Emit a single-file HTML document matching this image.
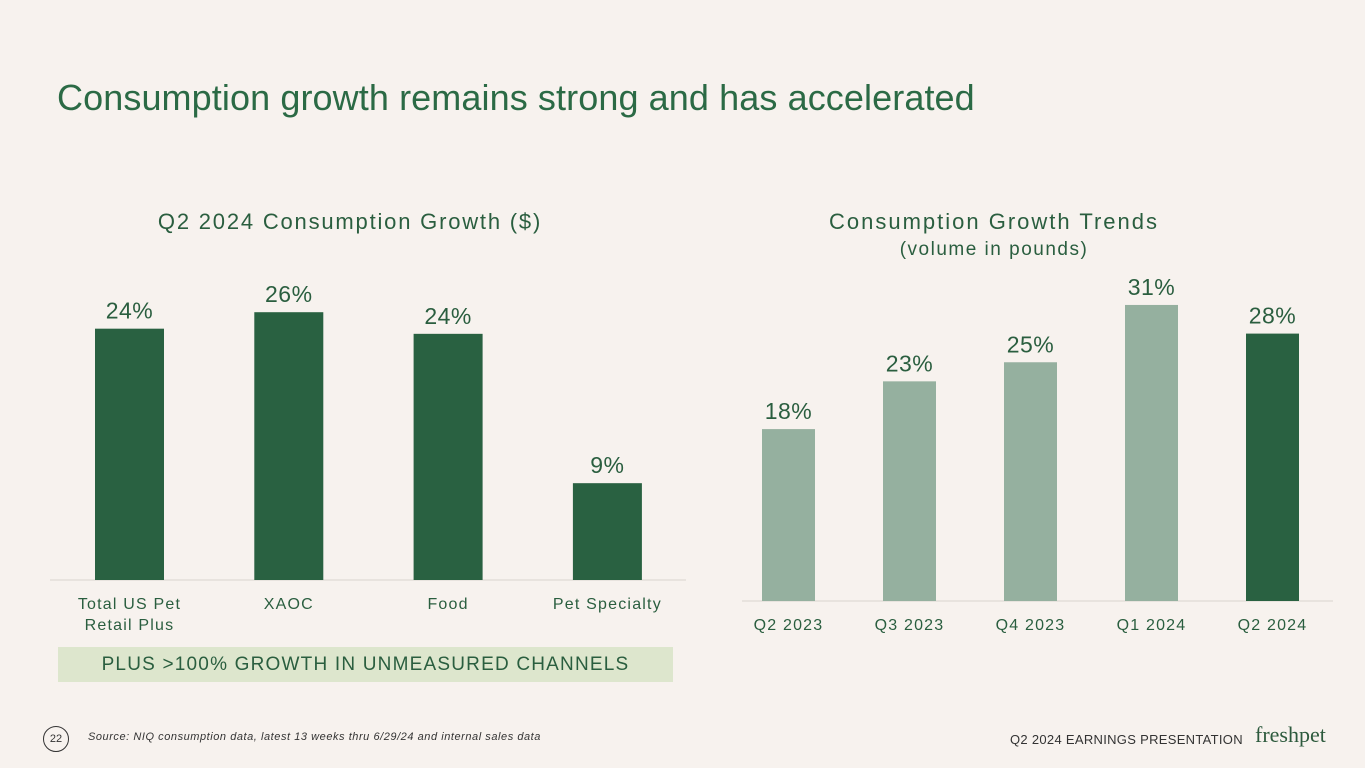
<!DOCTYPE html>
<html><head><meta charset="utf-8"><style>
body{margin:0;width:1365px;height:768px;background:#f7f2ee;font-family:"Liberation Sans",sans-serif;overflow:hidden;position:relative}
.abs{position:absolute}
</style></head><body>
<div class="abs" style="left:57px;top:77px;font-size:36px;color:#2b6a45;white-space:nowrap;letter-spacing:0.1px">Consumption growth remains strong and has accelerated</div>
<svg class="abs" style="left:0;top:0" width="1365" height="768">
<g id="left"></g>
<g id="right"></g>
</svg>
<div class="abs" style="left:58px;top:647px;width:615px;height:35px;background:#dde6cd;color:#2a5e3f;font-size:19px;line-height:35px;text-align:center;letter-spacing:1.2px">PLUS &gt;100% GROWTH IN UNMEASURED CHANNELS</div>
<div class="abs" style="left:43px;top:726px;width:24px;height:24px;border:1.5px solid #333;border-radius:50%;font-size:11px;line-height:24px;text-align:center;color:#333">22</div>
<div class="abs" style="left:88px;top:731px;font-size:11px;font-style:italic;color:#333;letter-spacing:0.55px;white-space:nowrap">Source:  NIQ consumption data, latest 13 weeks thru 6/29/24 and internal sales data</div>
<div class="abs" style="left:1010px;top:732px;font-size:13px;color:#333;letter-spacing:0.3px;white-space:nowrap">Q2 2024 EARNINGS PRESENTATION</div>
<div class="abs" style="left:1255px;top:722px;font-size:22px;font-family:'Liberation Serif',serif;color:#2d5a3d">freshpet</div>
<script>
const leftCats=["Total US Pet|Retail Plus","XAOC","Food","Pet Specialty"];
const leftVals=[24.4,26,23.9,9.4];
const leftLabels=["24%","26%","24%","9%"];
const rightCats=["Q2 2023","Q3 2023","Q4 2023","Q1 2024","Q2 2024"];
const rightVals=[18,23,25,31,28];
const rightLabels=["18%","23%","25%","31%","28%"];
const NS="http://www.w3.org/2000/svg";
function mk(parent,tag,attrs,text){const e=document.createElementNS(NS,tag);for(const k in attrs)e.setAttribute(k,attrs[k]);if(text!==undefined)e.textContent=text;parent.appendChild(e);return e;}
function chart(g,cats,vals,labels,opt){
  const yS=v=>opt.base-v*opt.ppu;
  const xS=i=>opt.x0+i*opt.step;
  const t=mk(g,'text',{x:opt.titleX,y:opt.titleY,'text-anchor':'middle','font-size':22,'letter-spacing':opt.tls,fill:'#2a5e3f'},opt.title);
  
  
  if(opt.sub){const s=mk(g,'text',{x:opt.titleX,y:opt.titleY+26,'text-anchor':'middle','font-size':19,'letter-spacing':1.5,fill:'#2a5e3f'},opt.sub);
  
  }
  const ax=mk(g,'line',{x1:opt.ax1,x2:opt.ax2,y1:opt.base,y2:opt.base,stroke:'#d9d4cf','stroke-width':1});
  
  
  vals.forEach((v,i)=>{
    const x=xS(i),y=yS(v);
    const r=mk(g,'rect',{x:x,y:y,width:opt.bw,height:opt.base-y,fill:opt.colors[i]});
    
    
    const l=mk(g,'text',{x:x+opt.bw/2,y:y-10,'text-anchor':'middle','font-size':23,'letter-spacing':0.5,fill:'#2a5e3f'},labels[i]);
    
    
    cats[i].split('|').forEach((c,j)=>{
      const ct=mk(g,'text',{x:x+opt.bw/2,y:opt.base+opt.catDy+j*21,'text-anchor':'middle','font-size':16,'letter-spacing':1.2,fill:'#2a5e3f'},c);
      
      
    });
  });
}
chart(document.getElementById('left'),leftCats,leftVals,leftLabels,{base:580,ppu:10.3,x0:95,step:159.3,bw:69,ax1:50,ax2:686,title:'Q2 2024 Consumption Growth ($)',tls:1.8,titleX:350,titleY:229,catDy:29,colors:['#296141','#296141','#296141','#296141']});
chart(document.getElementById('right'),rightCats,rightVals,rightLabels,{base:601,ppu:9.55,x0:762,step:121,bw:53,ax1:742,ax2:1333,title:'Consumption Growth Trends',tls:2,sub:'(volume in pounds)',titleX:994,titleY:229,catDy:29,colors:['#95b09f','#95b09f','#95b09f','#95b09f','#296141']});
</script>
</body></html>
